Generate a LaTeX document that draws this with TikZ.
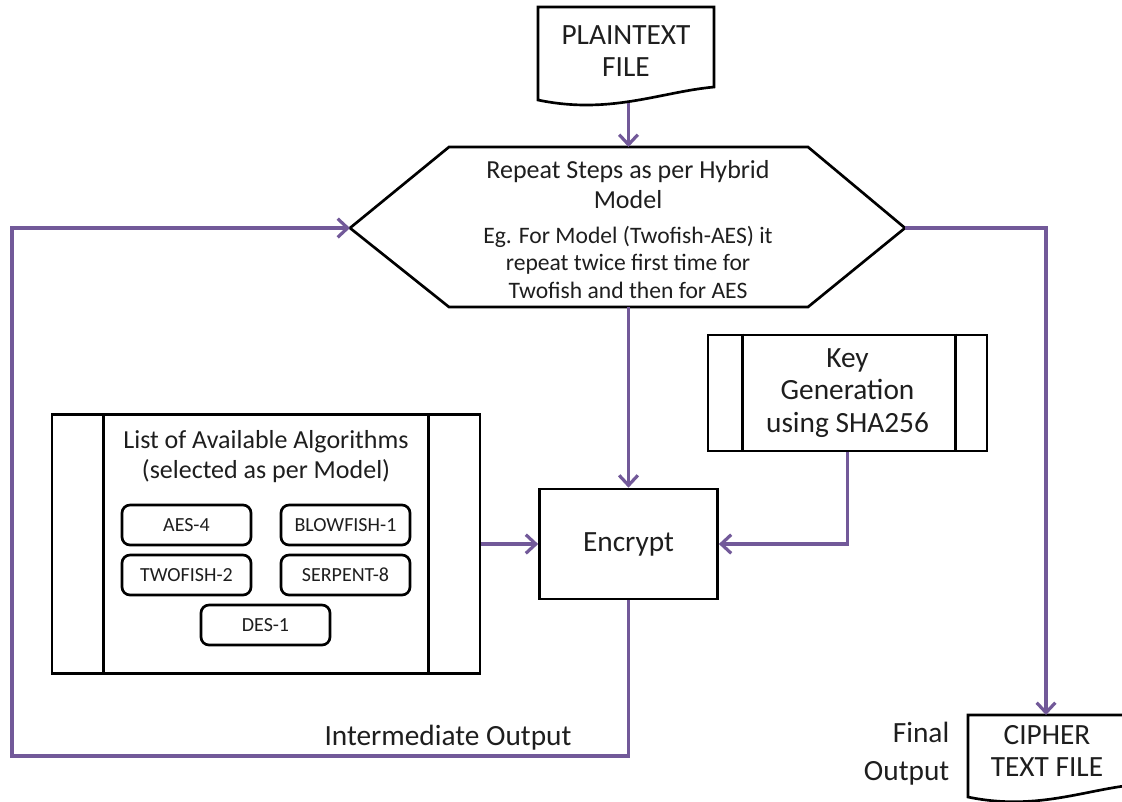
\documentclass[tikz,border=0pt]{standalone}
\usepackage{fontspec}
\setmainfont{Carlito}
\usetikzlibrary{arrows.meta,calc}
\definecolor{conncol}{RGB}{114,89,153}
\definecolor{txt}{RGB}{30,30,30}
\tikzset{
  boxline/.style={draw=black,line width=2pt},
  conn/.style={draw=conncol,line width=2.4pt,-{Straight Barb[length=7.5pt,width=14pt]}},
  bigtxt/.style={font=\fontsize{22}{24.5}\selectfont,align=center,text=txt},
  hexa/.style={font=\fontsize{19.5}{22.5}\selectfont,align=center,text=txt},
  hexb/.style={font=\fontsize{17.7}{20.6}\selectfont,align=center,text=txt},
  titletxt/.style={font=\fontsize{19.5}{22.5}\selectfont,align=center,text=txt},
  chip/.style={draw=black,line width=2pt,rounded corners=6pt,minimum width=96.75pt,minimum height=30pt,inner sep=0pt,font=\fontsize{15}{17}\selectfont,text=txt}
}
\begin{document}
\begin{tikzpicture}[x=0.75pt,y=-0.75pt]
\useasboundingbox (0,0) rectangle (1122,801);
% plaintext document
\draw[boxline,fill=white] (538,100) -- (538,7) -- (714,7) -- (714,87) .. controls (660,92) and (610,115) .. (538,100) -- cycle;
\node[bigtxt] (plain) at (626,51) {PLAINTEXT\\FILE};
\coordinate (plainB) at (628.5,103);
% hexagon
\coordinate (hexL) at (350,228);
\coordinate (hexR) at (905,228);
\coordinate (hexT) at (628.5,147);
\coordinate (hexB) at (628.5,307);
\draw[boxline,line join=miter] (hexL) -- (449,147) -- (808,147) -- (hexR) -- (808,307) -- (449,307) -- cycle;
\node[hexa] (hexA) at (628,185) {Repeat Steps as per Hybrid\\Model};
\node[hexb] (hexBt) at (628,262) {Eg. For Model (Twofish-AES) it\\repeat twice first time for\\Twofish and then for AES};
% encrypt
\node[boxline,bigtxt,minimum width=133.5pt,minimum height=82.5pt] (enc) at (628.5,544) {Encrypt};
% key generation
\node[boxline,bigtxt,minimum width=209.25pt,minimum height=87pt] (key) at (847.5,393) {Key\\Generation\\using SHA256};
\draw[boxline] ($(key.north west)+(36,0)$) -- ($(key.south west)+(36,0)$);
\draw[boxline] ($(key.north east)+(-33,0)$) -- ($(key.south east)+(-33,0)$);
% list of algorithms
\node[boxline,minimum width=321pt,minimum height=194.25pt] (list) at (266,544) {};
\draw[boxline] ($(list.north west)+(53,0)$) -- ($(list.south west)+(53,0)$);
\draw[boxline] ($(list.north east)+(-53,0)$) -- ($(list.south east)+(-53,0)$);
\node[titletxt] (listT) at (266,457) {List of Available Algorithms\\(selected as per Model)};
\node[chip] (aes) at (186.5,525) {AES-4};
\node[chip] (blow) at (345.5,525) {BLOWFISH-1};
\node[chip] (two) at (186.5,575) {TWOFISH-2};
\node[chip] (serp) at (345.5,575) {SERPENT-8};
\node[chip] (des) at (265.5,625) {DES-1};
% cipher document
\draw[boxline,fill=white] (968,797) -- (968,715) -- (1144,715) -- (1144,784) .. controls (1090,787) and (1040,812) .. (968,797) -- cycle;
\node[bigtxt] (cipher) at (1047,751) {CIPHER\\TEXT FILE};
\coordinate (cipherT) at (1046,715);
\node[text=txt,font=\fontsize{22}{28.5}\selectfont,align=right,anchor=east] (final) at (954,754) {Final\\Output};
% connectors
\coordinate (loopBL) at (12,756);
\draw[conn] (plainB) -- (hexT);
\draw[conn] (hexB) -- (enc.north);
\draw[conn] (list.east) -- (enc.west);
\draw[conn] (key.south) |- (enc.east);
\draw[conn] (enc.south) |- (loopBL) |- (hexL);
\draw[conn] (hexR) -| (cipherT);
\node[bigtxt] (inter) at (448,738) {Intermediate Output};
\end{tikzpicture}
\end{document}
